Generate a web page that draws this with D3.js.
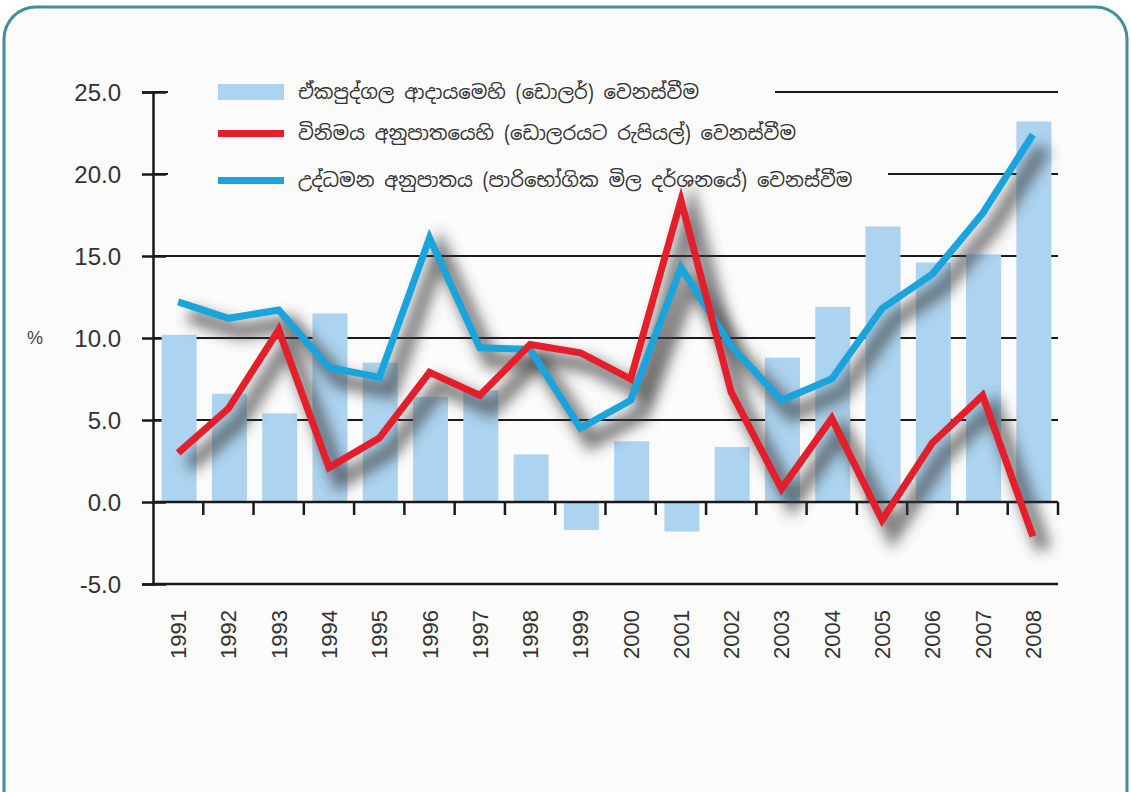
<!DOCTYPE html>
<html>
<head>
<meta charset="utf-8">
<script src="https://cdn.jsdelivr.net/npm/d3@7"></script>
<style>
  body { margin: 0; background: #ffffff; }
  svg { display: block; }
  text { font-family: "Liberation Sans", Arial, sans-serif; }
</style>
</head>
<body>
<div id="chart"></div>
<script>
// data
let years = ["1991","1992","1993","1994","1995","1996","1997","1998","1999",
             "2000","2001","2002","2003","2004","2005","2006","2007","2008"];
let incomeChange = [10.2, 6.6, 5.4, 11.5, 8.5, 6.4, 6.8, 2.9, -1.7,
                    3.7, -1.8, 3.35, 8.8, 11.9, 16.8, 14.6, 15.1, 23.2];
let exchangeChange = [3.0, 5.7, 10.5, 2.1, 3.9, 7.9, 6.5, 9.6, 9.1,
                      7.5, 18.4, 6.7, 0.8, 5.1, -1.1, 3.6, 6.5, -2.1];
let inflationChange = [12.2, 11.2, 11.7, 8.2, 7.6, 16.1, 9.4, 9.3, 4.5,
                       6.2, 14.3, 9.5, 6.2, 7.5, 11.8, 13.9, 17.6, 22.4];
let yTicks = [25, 20, 15, 10, 5, 0, -5];
let legendLabels = [
    "ඒකපුද්ගල ආදායමෙහි (ඩොලර්) වෙනස්වීම",
    "විනිමය අනුපාතයෙහි (ඩොලරයට රුපියල්) වෙනස්වීම",
    "උද්ධමන අනුපාතය (පාරිභෝගික මිල දර්ශනයේ) වෙනස්වීම"
];

let W = 1131, H = 792;
let barColor = "#acd3ef", redColor = "#e41e2b", blueColor = "#19a4de";

let svg = d3.select("#chart").append("svg")
    .attr("width", W)
    .attr("height", H);

// frame
svg.append("rect")
    .attr("x", 4).attr("y", 7)
    .attr("width", 1123).attr("height", 830)
    .attr("rx", 32).attr("ry", 32)
    .attr("fill", "#fbfbfb")
    .attr("stroke", "#3f909c")
    .attr("stroke-width", 3);

let defs = svg.append("defs");
defs.append("filter")
    .attr("id", "blur")
    .attr("x", "-10%").attr("y", "-20%")
    .attr("width", "120%").attr("height", "140%")
    .append("feGaussianBlur")
    .attr("stdDeviation", 7);

let left = 153, right = 1058;
let x = d3.scaleBand().domain(years).range([left, right]).padding(0);
let barW = 35;
let y = d3.scaleLinear().domain([-5, 25]).range([584, 92]);

let g = svg.append("g");

// gridlines
g.selectAll(".grid")
    .data(yTicks)
    .enter()
    .append("line")
    .attr("x1", left).attr("x2", right)
    .attr("y1", d => y(d)).attr("y2", d => y(d))
    .attr("stroke", "#1a1a1a")
    .attr("stroke-width", d => d === -5 ? 2.5 : 2);

// y axis
let yAxis = g.append("g")
    .attr("transform", "translate(" + left + ",0)")
    .call(d3.axisLeft(y).tickValues(yTicks).tickSize(11).tickFormat(d => d.toFixed(1)));
yAxis.select(".domain").attr("stroke", "#1a1a1a").attr("stroke-width", 2.5);
yAxis.selectAll(".tick line").attr("stroke", "#1a1a1a").attr("stroke-width", 2.5)
    .attr("x2", 13).attr("x1", -11);
yAxis.selectAll(".tick text")
    .attr("x", -32)
    .attr("dy", "0.36em")
    .style("font-size", "24px")
    .style("font-family", "'Liberation Sans', Arial, sans-serif")
    .attr("fill", "#333");

svg.append("text")
    .attr("x", 27).attr("y", y(10))
    .attr("dy", "0.36em")
    .style("font-size", "18px")
    .attr("fill", "#444")
    .text("%");

// legend backgrounds hide parts of the top gridlines
let legendY = [92, 133, 180];
let legendBgRight = [775, 775, 888];
g.selectAll(".legbg")
    .data(legendY)
    .enter()
    .append("rect")
    .attr("x", 168)
    .attr("y", d => d - 14)
    .attr("width", (d, i) => legendBgRight[i] - 168)
    .attr("height", 28)
    .attr("fill", "#fbfbfb");

// bars
g.selectAll(".bar")
    .data(incomeChange)
    .enter()
    .append("rect")
    .attr("x", (d, i) => x(years[i]) + (x.bandwidth() - barW) / 2 + 1)
    .attr("y", d => y(Math.max(0, d)))
    .attr("width", barW)
    .attr("height", d => Math.abs(y(d) - y(0)))
    .attr("fill", barColor);

// x axis ticks at band boundaries
g.selectAll(".xtick")
    .data(years)
    .enter()
    .append("line")
    .attr("x1", d => x(d) + x.bandwidth())
    .attr("x2", d => x(d) + x.bandwidth())
    .attr("y1", y(0)).attr("y2", y(0) + 13)
    .attr("stroke", "#1a1a1a")
    .attr("stroke-width", 2.5);

g.append("line")
    .attr("x1", left).attr("x2", right)
    .attr("y1", y(0)).attr("y2", y(0))
    .attr("stroke", "#1a1a1a").attr("stroke-width", 2.5);

// lines with soft shadows
let line = d3.line()
    .x((d, i) => x(years[i]) + x.bandwidth() / 2)
    .y(d => y(d));

let series = [
    {values: inflationChange, color: blueColor},
    {values: exchangeChange, color: redColor}
];

series.forEach(s => {
    g.append("path")
        .attr("d", line(s.values))
        .attr("transform", "translate(11,13)")
        .attr("fill", "none")
        .attr("stroke", "#3a3a3a")
        .attr("stroke-width", 16)
        .attr("opacity", 0.65)
        .attr("filter", "url(#blur)");
});
series.forEach(s => {
    g.append("path")
        .attr("d", line(s.values))
        .attr("fill", "none")
        .attr("stroke", s.color)
        .attr("stroke-width", 7)
        .attr("stroke-linejoin", "miter");
});

// x labels
g.selectAll(".xlab")
    .data(years)
    .enter()
    .append("text")
    .attr("transform", d => "translate(" + (x(d) + x.bandwidth() / 2 + 8) + ",610) rotate(-90)")
    .attr("text-anchor", "end")
    .style("font-size", "22px")
    .attr("fill", "#333")
    .text(d => d);

// legend
let leg = svg.append("g");
leg.append("rect")
    .attr("x", 218).attr("y", 84)
    .attr("width", 66).attr("height", 16)
    .attr("fill", barColor);
leg.append("rect")
    .attr("x", 218).attr("y", 130)
    .attr("width", 66).attr("height", 7)
    .attr("fill", redColor);
leg.append("rect")
    .attr("x", 218).attr("y", 177)
    .attr("width", 66).attr("height", 7)
    .attr("fill", blueColor);
leg.selectAll(".legtext")
    .data(legendLabels)
    .enter()
    .append("text")
    .attr("x", 298)
    .attr("y", (d, i) => legendY[i])
    .attr("dy", "0.36em")
    .style("font-size", "19.5px")
    .style("font-family", "'Noto Sans Sinhala', 'Iskoola Pota', 'Noto Sans', sans-serif")
    .attr("fill", "#333")
    .text(d => d);
</script>
</body>
</html>
